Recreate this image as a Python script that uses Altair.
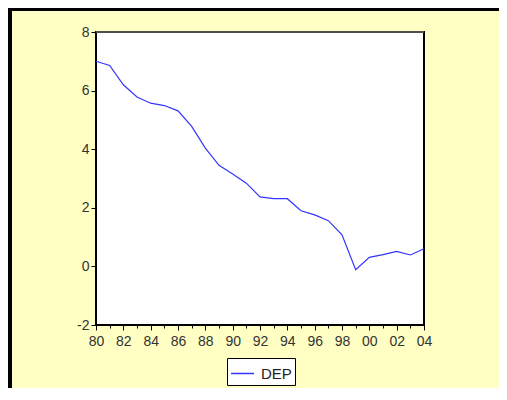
import altair as alt
import pandas as pd

# ---- data ----
years = list(range(1980, 2005))
dep = [7.00, 6.86, 6.20, 5.78, 5.57, 5.49, 5.31, 4.78, 4.04, 3.45, 3.15, 2.84,
       2.37, 2.31, 2.31, 1.90, 1.76, 1.56, 1.08, -0.11, 0.31, 0.40, 0.51, 0.39, 0.60]
series_name = "DEP"
x_ticks = list(range(1980, 2005))
y_ticks = [-2, 0, 2, 4, 6, 8]

# ---- layout ----
W, H = 328, 293
PAD_L, PAD_T = 88, 24
TOTAL_W, TOTAL_H = 491, 380
FONT = "Liberation Sans"
BG = "#FFFFC4"
LINE_COLOR = "#3434FF"

df = pd.DataFrame({"year": years, "value": dep, "series": series_name})
one = pd.DataFrame({"a": [0]})

x_scale = alt.Scale(domain=[1980, 2004], nice=False, zero=False)
y_scale = alt.Scale(domain=[-2, 8], nice=False, zero=False)

x_axis = alt.Axis(values=x_ticks, title=None, grid=False,
                  labelExpr="datum.value % 2 == 0 ? substring(format(datum.value, 'd'), 2) : ''",
                  tickSize={"condition": {"test": "datum.value % 2 == 0", "value": 5}, "value": 3},
                  tickColor="black", tickWidth=1,
                  domain=False, labelFont=FONT, labelFontSize=14,
                  labelColor="#333", labelPadding=4, labelFlush=False,
                  labelOverlap=False)
y_axis = alt.Axis(values=y_ticks, title=None, grid=False,
                  labelExpr="'' + datum.value",
                  tickSize=5, tickColor="black", tickWidth=1,
                  domain=False, labelFont=FONT, labelFontSize=14,
                  labelColor="#333", labelPadding=2, labelOverlap=False)

line = alt.Chart(df).mark_line(strokeWidth=1.2).encode(
    x=alt.X("year:Q", scale=x_scale, axis=x_axis),
    y=alt.Y("value:Q", scale=y_scale, axis=y_axis),
    color=alt.Color("series:N",
                    scale=alt.Scale(domain=[series_name], range=[LINE_COLOR]),
                    legend=alt.Legend(orient="none", legendX=131, legendY=326,
                                      title=None, symbolType="stroke",
                                      symbolSize=529, symbolStrokeWidth=1.5,
                                      fillColor="white", strokeColor="black",
                                      padding=3, labelFont=FONT, labelFontSize=15,
                                      labelColor="#222", labelOffset=6)),
)

top_border = alt.Chart(one).mark_rule(color="#666", strokeWidth=1.5).encode(
    x=alt.value(0), x2=alt.value(W), y=alt.value(0))

frame_top = alt.Chart(one).mark_rule(color="black", strokeWidth=3).encode(
    x=alt.value(-PAD_L), x2=alt.value(TOTAL_W - PAD_L), y=alt.value(-PAD_T + 1.5))
frame_left = alt.Chart(one).mark_rule(color="black", strokeWidth=4).encode(
    x=alt.value(-PAD_L + 2), y=alt.value(-PAD_T), y2=alt.value(TOTAL_H - PAD_T))

chart = alt.layer(line, top_border, frame_top, frame_left).properties(
    width=W, height=H,
    autosize=alt.AutoSizeParams(type="none"),
    padding={"left": PAD_L, "top": PAD_T,
             "right": TOTAL_W - PAD_L - W, "bottom": TOTAL_H - PAD_T - H},
    background=BG,
).configure_view(stroke="black", strokeWidth=2, fill="white")

chart.save("out.html", embed_options={"renderer": "svg", "actions": False})
